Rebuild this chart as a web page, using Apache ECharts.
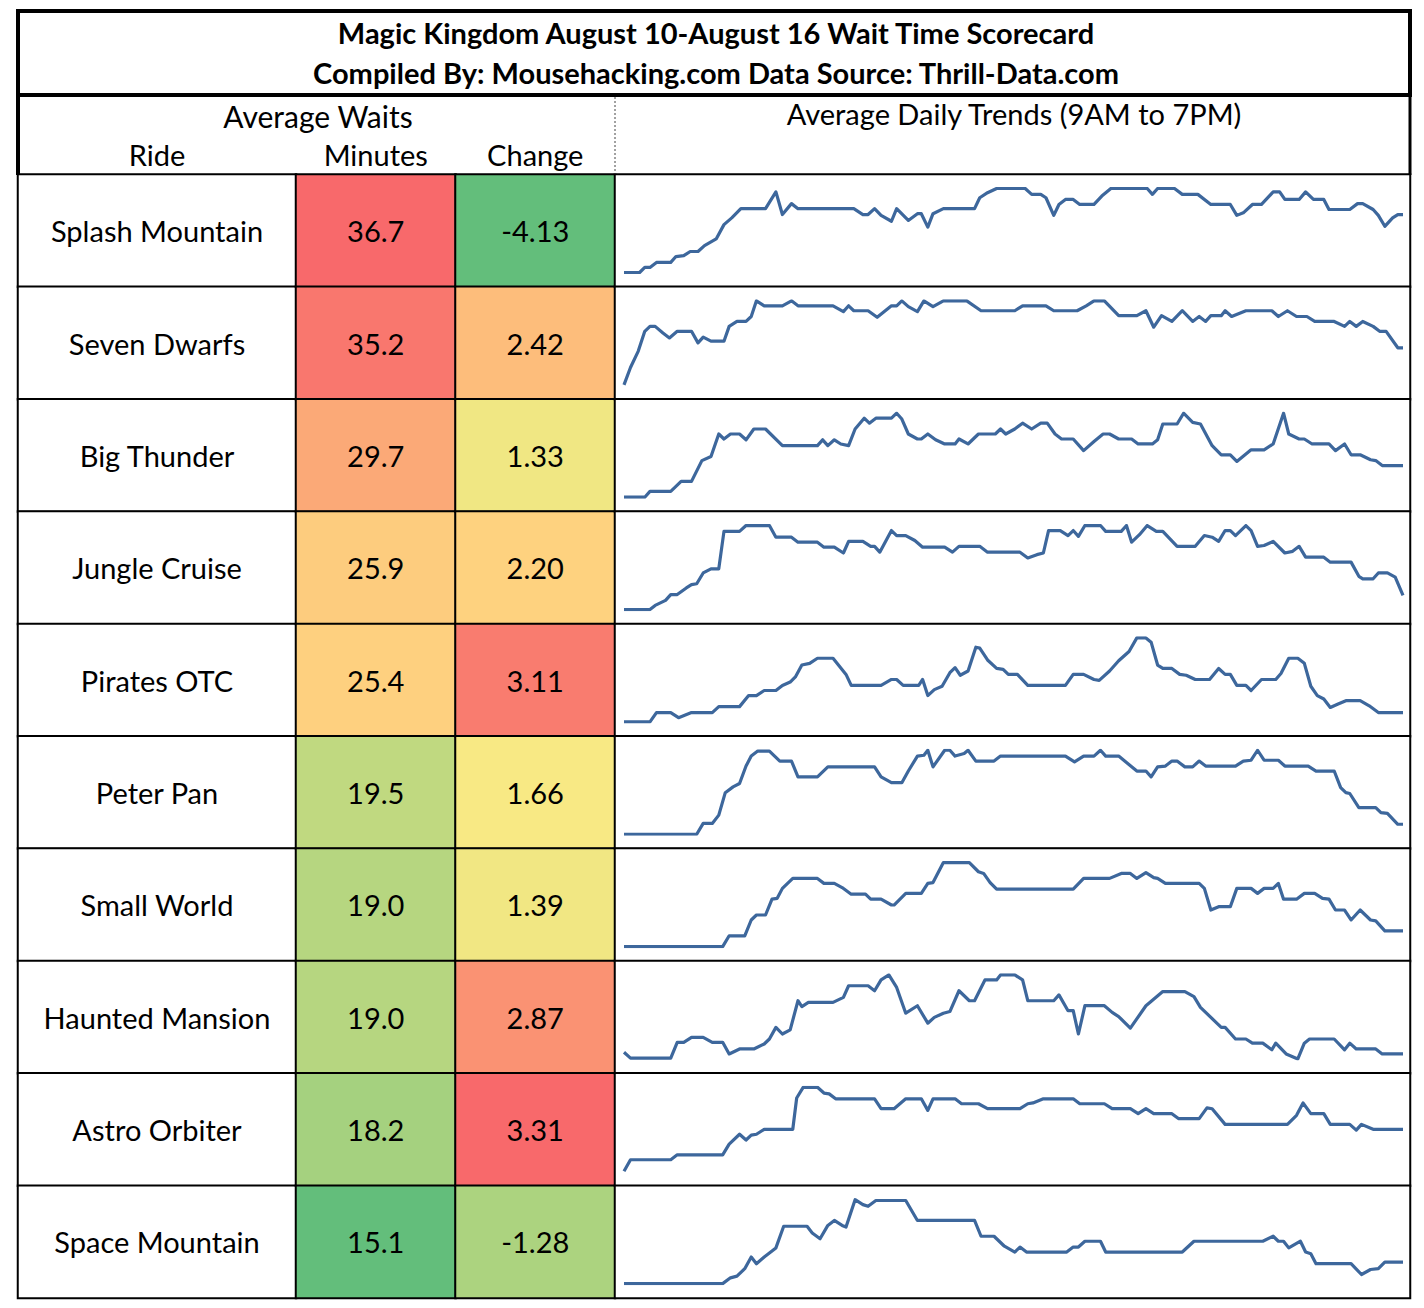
<!DOCTYPE html>
<html><head><meta charset="utf-8">
<script src="https://cdn.jsdelivr.net/npm/echarts@6/dist/echarts.min.js"></script>
<style>html,body{margin:0;padding:0;background:#fff}#c{width:1424px;height:1308px}</style>
</head><body><div id="c"></div>
<script>
// ---- data ----
const titleLine1 = 'Magic Kingdom August 10-August 16 Wait Time Scorecard';
const titleLine2 = 'Compiled By: Mousehacking.com Data Source: Thrill-Data.com';
const groupHeader = 'Average Waits';
const trendHeader = 'Average Daily Trends (9AM to 7PM)';
const columnHeaders = ['Ride', 'Minutes', 'Change'];
const rides = ['Splash Mountain','Seven Dwarfs','Big Thunder','Jungle Cruise','Pirates OTC','Peter Pan','Small World','Haunted Mansion','Astro Orbiter','Space Mountain'];
const minutes = [36.7, 35.2, 29.7, 25.9, 25.4, 19.5, 19.0, 19.0, 18.2, 15.1];
const change = [-4.13, 2.42, 1.33, 2.20, 3.11, 1.66, 1.39, 2.87, 3.31, -1.28];
// trends: [minutes after 9AM, relative wait level]
const trendSplash = [[0,2],[12,2],[16,8],[20,8],[25,14],[36,14],[40,21],[46,22],[51,27],[57,27],[62,34],[71,42],[77,59],[83,67],[90,78],[109,78],[117,98],[122,71],[129,84],[134,78],[177,78],[184,71],[188,71],[193,78],[198,70],[206,63],[210,78],[219,64],[226,72],[229,72],[234,56],[238,72],[246,78],[270,78],[274,91],[280,97],[287,102],[309,102],[314,95],[321,95],[325,91],[331,70],[335,83],[340,89],[346,89],[351,83],[362,83],[368,93],[375,102],[403,102],[407,95],[411,102],[424,102],[430,95],[442,95],[452,83],[467,83],[472,70],[477,73],[484,83],[491,83],[500,98],[505,98],[509,89],[520,89],[525,98],[531,89],[539,89],[543,77],[559,77],[565,84],[569,84],[577,77],[581,70],[586,57],[592,67],[596,71],[600,71]];
const trendDwarfs = [[0,0],[5,21],[11,41],[16,65],[20,71],[24,71],[30,63],[35,57],[41,65],[52,65],[57,51],[61,58],[67,53],[77,53],[81,71],[87,77],[94,77],[98,83],[102,102],[108,96],[122,96],[129,102],[134,96],[161,96],[169,89],[173,96],[177,90],[188,90],[195,82],[206,96],[210,96],[214,102],[219,95],[226,89],[231,102],[238,95],[246,102],[264,102],[275,90],[301,90],[307,96],[325,96],[331,90],[349,90],[356,96],[362,102],[370,102],[381,84],[395,84],[402,90],[408,70],[414,84],[422,77],[430,90],[438,77],[443,83],[448,77],[452,84],[460,84],[463,90],[468,83],[479,90],[499,90],[504,83],[511,90],[518,83],[526,83],[532,77],[547,77],[555,71],[559,77],[564,71],[569,77],[577,71],[582,65],[587,65],[596,45],[600,45]];
const trendThunder = [[0,1],[16,1],[20,8],[36,8],[44,20],[52,20],[60,45],[67,50],[73,77],[77,71],[82,77],[89,77],[94,70],[100,83],[109,83],[122,63],[149,63],[153,70],[157,63],[162,70],[167,65],[173,63],[178,83],[185,96],[189,90],[194,96],[206,96],[210,102],[214,95],[219,77],[226,71],[229,71],[234,77],[240,70],[247,65],[255,65],[258,71],[265,65],[273,77],[286,77],[290,83],[294,77],[301,83],[307,90],[314,83],[321,90],[326,90],[332,77],[337,71],[346,71],[354,57],[362,68],[369,77],[374,77],[381,71],[391,71],[396,65],[407,65],[411,70],[415,89],[426,89],[431,102],[438,91],[444,89],[453,63],[460,52],[467,52],[472,44],[483,58],[493,58],[500,65],[508,102],[512,77],[520,71],[524,71],[530,65],[543,65],[548,57],[555,65],[560,52],[567,52],[575,46],[579,45],[584,39],[600,39]];
const trendJungle = [[0,1],[20,1],[24,6],[32,12],[36,19],[41,19],[48,27],[52,31],[56,32],[61,45],[67,50],[73,50],[77,95],[89,95],[94,102],[112,102],[117,88],[129,88],[134,82],[149,82],[154,76],[162,76],[169,69],[173,83],[184,83],[190,77],[193,77],[197,70],[206,96],[210,90],[217,90],[224,84],[230,76],[247,76],[253,70],[258,77],[274,77],[280,70],[305,70],[311,63],[318,67],[323,69],[327,96],[336,96],[342,90],[346,96],[350,89],[355,102],[367,102],[371,95],[383,95],[387,102],[391,82],[397,91],[403,102],[410,95],[415,95],[426,77],[440,77],[447,90],[453,88],[458,83],[463,96],[467,96],[471,90],[479,102],[483,96],[488,77],[493,78],[500,83],[509,69],[515,71],[520,77],[525,64],[539,64],[544,58],[560,58],[566,41],[569,38],[577,38],[581,45],[588,45],[594,40],[600,18]];
const trendPirates = [[0,1],[20,1],[25,12],[36,12],[42,6],[52,12],[68,12],[73,19],[89,19],[96,32],[102,32],[108,38],[117,38],[122,44],[128,48],[132,54],[137,68],[143,70],[149,76],[161,76],[171,57],[175,44],[198,44],[206,51],[210,51],[215,44],[227,44],[230,51],[234,32],[239,39],[245,43],[251,59],[255,65],[259,56],[265,61],[271,89],[274,88],[280,74],[287,64],[292,63],[296,57],[303,57],[311,44],[340,44],[346,57],[354,57],[362,51],[366,50],[374,61],[381,73],[389,84],[395,100],[402,100],[406,95],[411,68],[415,64],[422,64],[428,57],[433,56],[440,51],[451,51],[458,64],[463,57],[467,57],[472,44],[479,44],[483,38],[491,51],[502,51],[506,58],[512,76],[519,76],[524,70],[529,43],[534,32],[539,28],[544,18],[550,22],[556,26],[567,26],[574,20],[581,12],[600,12]];
const trendPeterPan = [[0,1],[56,1],[61,14],[68,14],[73,24],[78,51],[84,58],[89,62],[94,83],[98,95],[103,101],[112,101],[120,89],[129,89],[134,70],[149,70],[157,82],[193,82],[198,70],[206,63],[214,63],[219,77],[226,95],[231,96],[234,102],[238,82],[247,102],[251,102],[255,95],[262,98],[265,102],[271,89],[285,89],[290,95],[340,95],[347,88],[354,95],[362,95],[367,102],[371,95],[381,95],[395,77],[402,77],[406,70],[411,82],[417,83],[422,89],[426,89],[432,82],[438,82],[443,89],[448,83],[471,83],[477,89],[483,90],[488,102],[493,90],[504,90],[509,83],[527,83],[533,77],[547,77],[552,57],[556,51],[559,50],[566,33],[579,33],[583,27],[588,26],[596,13],[600,13]];
const trendSmallWorld = [[0,0],[76,0],[81,13],[93,13],[98,32],[102,38],[109,38],[114,57],[118,58],[122,70],[130,82],[149,82],[154,76],[162,76],[168,71],[175,63],[186,63],[190,57],[198,57],[206,50],[208,50],[217,64],[229,64],[234,76],[238,77],[246,101],[266,101],[273,90],[277,88],[282,77],[287,69],[346,69],[354,82],[374,82],[383,88],[390,88],[395,82],[402,89],[408,83],[411,82],[417,76],[443,76],[447,70],[452,44],[458,48],[467,48],[472,70],[483,70],[488,64],[493,70],[500,70],[504,76],[508,57],[518,57],[524,64],[532,64],[538,58],[543,57],[548,44],[555,44],[560,32],[567,44],[575,32],[579,31],[586,19],[600,19]];
const trendHaunted = [[0,8],[5,1],[36,1],[41,20],[46,20],[52,26],[61,26],[68,20],[76,20],[81,6],[89,12],[100,12],[108,18],[112,24],[117,38],[122,30],[128,35],[134,70],[137,63],[142,68],[161,68],[169,74],[173,88],[188,88],[193,82],[198,95],[204,101],[210,86],[217,55],[226,64],[234,43],[239,50],[246,55],[251,57],[258,82],[266,70],[270,70],[278,95],[287,95],[290,101],[301,101],[307,95],[311,70],[331,70],[335,77],[342,58],[346,58],[350,30],[355,64],[370,64],[376,56],[381,51],[390,37],[402,64],[415,81],[432,81],[439,75],[444,62],[460,38],[463,38],[471,24],[479,24],[484,19],[492,19],[499,11],[502,19],[510,6],[519,0],[524,19],[528,24],[547,24],[555,11],[559,19],[564,12],[579,12],[584,6],[600,6]];
const trendAstro = [[0,0],[5,14],[36,14],[41,20],[76,20],[81,33],[89,45],[94,38],[98,44],[102,45],[108,51],[130,51],[133,89],[138,102],[149,102],[154,95],[158,94],[163,88],[193,88],[198,76],[208,76],[217,88],[229,88],[234,74],[238,88],[255,88],[260,82],[273,82],[280,76],[305,76],[311,82],[315,83],[323,88],[346,88],[351,82],[370,82],[376,76],[390,76],[396,70],[402,76],[408,70],[422,70],[427,64],[443,64],[449,77],[453,76],[463,57],[511,57],[518,68],[523,83],[529,70],[539,70],[544,57],[559,57],[564,50],[568,57],[577,51],[600,51]];
const trendSpace = [[0,0],[76,0],[82,7],[87,9],[93,18],[98,32],[102,24],[108,32],[113,38],[117,43],[123,69],[141,69],[145,61],[151,54],[157,70],[162,76],[168,70],[171,68],[178,101],[184,95],[188,93],[194,100],[217,100],[226,76],[270,76],[275,57],[285,57],[293,45],[301,38],[305,44],[310,38],[341,38],[346,44],[350,44],[355,51],[367,51],[371,38],[430,38],[439,51],[492,51],[500,57],[504,51],[508,51],[512,43],[521,51],[525,38],[529,36],[533,24],[560,24],[568,11],[575,17],[581,18],[586,26],[600,26]];
const trends = [trendSplash, trendDwarfs, trendThunder, trendJungle, trendPirates, trendPeterPan, trendSmallWorld, trendHaunted, trendAstro, trendSpace];

// ---- style / layout ----
const FONT = 'Lato, "Noto Sans", sans-serif';
const FS = 29;
const LINE_COLOR = '#3D679C';
const TABLE_TOP = 174.5, TABLE_H = 1123.5, ROW_H = TABLE_H / rides.length;
const COLS = [{left:18, width:278},{left:296, width:159.5},{left:455.5, width:159.5},{left:615, width:795}];

function excelScale(values){
  const s = values.slice().sort((a,b)=>a-b);
  const n = s.length, pos = (n-1)*0.5, lo = Math.floor(pos), hi = Math.ceil(pos);
  const mid = s[lo] + (s[hi]-s[lo])*(pos-lo), min = s[0], max = s[n-1];
  const G=[99,190,123], Y=[255,235,132], R=[248,105,107];
  return v => {
    let a,b,t;
    if (v <= mid){ a=G; b=Y; t=(v-min)/(mid-min); } else { a=Y; b=R; t=(v-mid)/(max-mid); }
    return 'rgb(' + a.map((c,i)=>Math.round(c+(b[i]-c)*t)).join(',') + ')';
  };
}
const minColor = excelScale(minutes), chgColor = excelScale(change);

const grids = [], xAxes = [], yAxes = [], series = [];
const labelStyle = {fontSize:FS, fontFamily:FONT, color:'#000'};
COLS.forEach((c, k) => {
  grids.push({left:c.left, width:c.width, top:TABLE_TOP, height:TABLE_H});
  xAxes.push({type:'category', gridIndex:k, position:'top', data:[k<3?columnHeaders[k]:''],
    axisLine:{show:false}, axisTick:{show:false}, splitLine:{show:false},
    axisLabel:{show:k<3, margin:6, fontSize:FS, fontFamily:FONT, color:'#000'}});
  yAxes.push({type:'category', gridIndex:k, inverse:true, data:rides, show:false});
});
const cellBase = {type:'heatmap', emphasis:{disabled:true}, animation:false};
series.push(Object.assign({}, cellBase, {xAxisIndex:0, yAxisIndex:0,
  data: rides.map((r,i)=>({value:[0,i,minutes[i]], itemStyle:{color:'#fff', borderColor:'#000', borderWidth:2}})),
  label:Object.assign({show:true, formatter:p=>rides[p.data.value[1]]}, labelStyle)}));
series.push(Object.assign({}, cellBase, {xAxisIndex:1, yAxisIndex:1,
  data: minutes.map((v,i)=>({value:[0,i,v], itemStyle:{color:minColor(v), borderColor:'#000', borderWidth:2}})),
  label:Object.assign({show:true, formatter:p=>p.data.value[2].toFixed(1)}, labelStyle)}));
series.push(Object.assign({}, cellBase, {xAxisIndex:2, yAxisIndex:2,
  data: change.map((v,i)=>({value:[0,i,v], itemStyle:{color:chgColor(v), borderColor:'#000', borderWidth:2}})),
  label:Object.assign({show:true, formatter:p=>p.data.value[2].toFixed(2)}, labelStyle)}));
series.push(Object.assign({}, cellBase, {xAxisIndex:3, yAxisIndex:3,
  data: rides.map((r,i)=>({value:[0,i,0], itemStyle:{color:'#fff', borderColor:'#000', borderWidth:2}})),
  label:{show:false}}));

trends.forEach((tr, i) => {
  const g = grids.length;
  grids.push({left:624, width:779, top:TABLE_TOP + i*ROW_H + 14, height:84});
  xAxes.push({type:'value', gridIndex:g, min:0, max:600, show:false});
  yAxes.push({type:'value', gridIndex:g, min:'dataMin', max:'dataMax', show:false, scale:true});
  series.push({type:'line', name:rides[i], xAxisIndex:g, yAxisIndex:g, data:tr, symbol:'none', z:5,
    lineStyle:{color:LINE_COLOR, width:3.2, join:'round'}, animation:false, silent:true});
});

function txt(text, x, y, size, bold){
  return {type:'text', x:x, y:y, silent:true, z:10,
    style:{text:text, fill:'#000', fontSize:size, fontFamily:FONT, fontWeight:bold?'bold':'normal',
      align:'center', verticalAlign:'middle', textAlign:'center', textVerticalAlign:'middle'}};
}

const chart = echarts.init(document.getElementById('c'), null, {renderer:'svg'});
chart.setOption({
  animation:false,
  backgroundColor:'#fff',
  grid:grids, xAxis:xAxes, yAxis:yAxes, series:series,
  graphic:[
    {type:'rect', shape:{x:18, y:11, width:1392, height:84}, style:{fill:'none', stroke:'#000', lineWidth:4}, z:20},
    {type:'line', shape:{x1:18, y1:95, x2:18, y2:175}, style:{stroke:'#000', lineWidth:4}, z:20},
    {type:'line', shape:{x1:1410, y1:95, x2:1410, y2:175}, style:{stroke:'#000', lineWidth:3}, z:20},
    {type:'line', shape:{x1:615, y1:97, x2:615, y2:174}, style:{stroke:'#444', lineWidth:1, lineDash:[2,2]}, z:20},
    txt(titleLine1, 716, 32.5, 29, true),
    txt(titleLine2, 716, 72.5, 29, true),
    txt(groupHeader, 318, 116, 30, false),
    txt(trendHeader, 1014, 113, FS, false)
  ]
});
</script></body></html>
